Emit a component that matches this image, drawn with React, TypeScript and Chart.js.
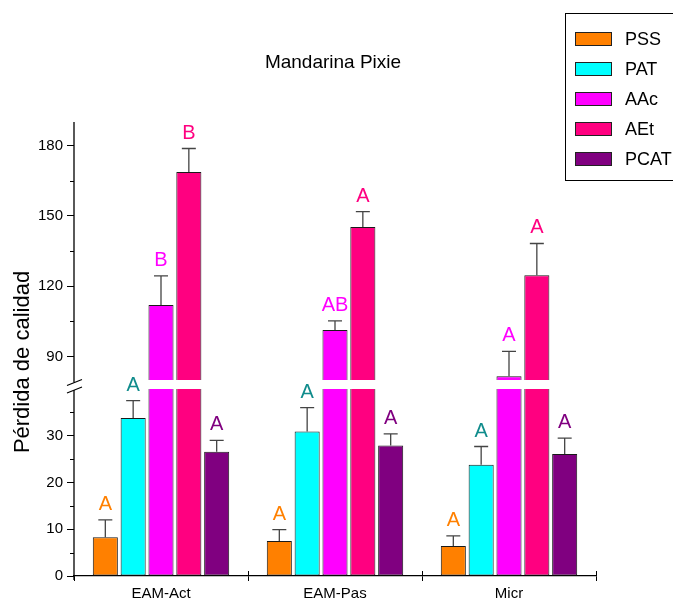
import { useEffect, useRef } from 'react';
import { Chart, registerables, LinearScale } from 'chart.js';

Chart.register(...registerables);

// ---- data ----
const categories = ['EAM-Act', 'EAM-Pas', 'Micr'];
const seriesNames = ['PSS', 'PAT', 'AAc', 'AEt', 'PCAT'];

const pss = [8.3, 7.5, 6.4];
const pat = [33.8, 30.9, 23.8];
const aac = [112.0, 101.3, 81.6];
const aet = [168.7, 145.2, 124.7];
const pcat = [26.6, 27.9, 26.1];

const pssErr = [3.7, 2.4, 2.2];
const patErr = [3.7, 5.1, 3.9];
const aacErr = [12.4, 3.9, 10.6];
const aetErr = [10.0, 6.6, 13.5];
const pcatErr = [2.4, 2.5, 3.4];

const pssLetters = ['A', 'A', 'A'];
const patLetters = ['A', 'A', 'A'];
const aacLetters = ['B', 'AB', 'A'];
const aetLetters = ['B', 'A', 'A'];
const pcatLetters = ['A', 'A', 'A'];

const seriesValues = [pss, pat, aac, aet, pcat];
const seriesErrors = [pssErr, patErr, aacErr, aetErr, pcatErr];
const seriesLetters = [pssLetters, patLetters, aacLetters, aetLetters, pcatLetters];

// y axis: two segments with a break between them
const yLowerRange = [0, 40];
const yUpperRange = [80, 190];
const yMajorTicks = [0, 10, 20, 30, 90, 120, 150, 180];
const yMinorTicks = [5, 15, 25, 35, 105, 135, 165];

// ---- styles ----
const fillColors = ['#FF8000', '#00FFFF', '#FF00FF', '#FF0080', '#800080'];
const letterColors = ['#FF8000', '#108C8C', '#FF00FF', '#FF0080', '#800080'];
const FONT = '"Liberation Sans", Arial, Helvetica, sans-serif';

// share of the plot height taken by the lower segment and by the gap
const LOWER_SHARE = 187 / 454;
const GAP_SHARE = 9 / 454;

class BrokenLinearScale extends LinearScale {
  static id = 'brokenLinear';
  static defaults = LinearScale.defaults;

  buildTicks() {
    return yMajorTicks.map((value) => ({ value }));
  }

  segmentHeights() {
    const h = this.bottom - this.top;
    const low = h * LOWER_SHARE;
    const gap = h * GAP_SHARE;
    return { low, gap, up: h - low - gap };
  }

  getPixelForValue(value: number) {
    if (value === null || value === undefined || isNaN(value)) return NaN;
    const { low, gap, up } = this.segmentHeights();
    const [l0, l1] = yLowerRange;
    const [u0, u1] = yUpperRange;
    if (value <= l1) return this.bottom - ((value - l0) / (l1 - l0)) * low;
    if (value >= u0) return this.bottom - low - gap - ((value - u0) / (u1 - u0)) * up;
    return this.bottom - low - ((value - l1) / (u0 - l1)) * gap;
  }

  getValueForPixel(pixel: number) {
    const { low, gap, up } = this.segmentHeights();
    const [l0, l1] = yLowerRange;
    const [u0, u1] = yUpperRange;
    const d = this.bottom - pixel;
    if (d <= low) return l0 + (d / low) * (l1 - l0);
    if (d >= low + gap) return u0 + ((d - low - gap) / up) * (u1 - u0);
    return l1 + ((d - low) / gap) * (u0 - l1);
  }
}
Chart.register(BrokenLinearScale);

const decorations = {
  id: 'decorations',
  afterDatasetsDraw(chart: any) {
    const { ctx, chartArea } = chart;
    const y = chart.scales.y;
    const gapTop = y.getPixelForValue(yUpperRange[0]);
    const gapBottom = y.getPixelForValue(yLowerRange[1]);

    ctx.save();
    // white band through the bars at the axis break
    ctx.fillStyle = '#FFFFFF';
    ctx.fillRect(chartArea.left + 1, gapTop, chartArea.right - chartArea.left - 1, gapBottom - gapTop);

    // error bars (upper half) and significance letters
    seriesValues.forEach((vals, i) => {
      const meta = chart.getDatasetMeta(i);
      meta.data.forEach((el: any, j: number) => {
        const x = el.x;
        const yTop = y.getPixelForValue(vals[j] + seriesErrors[i][j]);
        ctx.strokeStyle = '#444444';
        ctx.lineWidth = 1.3;
        ctx.beginPath();
        ctx.moveTo(x, el.y);
        ctx.lineTo(x, yTop);
        ctx.moveTo(x - 7, yTop);
        ctx.lineTo(x + 7, yTop);
        ctx.stroke();

        ctx.fillStyle = letterColors[i];
        ctx.font = `20px ${FONT}`;
        ctx.textAlign = 'center';
        ctx.textBaseline = 'alphabetic';
        ctx.fillText(seriesLetters[i][j], x, yTop - 10);
      });
    });
    ctx.restore();
  },
  afterDraw(chart: any) {
    const { ctx, chartArea } = chart;
    const y = chart.scales.y;
    const x = chart.scales.x;
    const axisX = chartArea.left;
    const gapTop = y.getPixelForValue(yUpperRange[0]);
    const gapBottom = y.getPixelForValue(yLowerRange[1]);
    const upperMark = gapTop + 2.5;
    const lowerMark = gapBottom + 1;

    ctx.save();
    ctx.strokeStyle = '#000000';
    ctx.lineWidth = 1.3;

    // broken y axis line
    ctx.beginPath();
    ctx.moveTo(axisX, chartArea.bottom + 4);
    ctx.lineTo(axisX, lowerMark);
    ctx.moveTo(axisX, upperMark);
    ctx.lineTo(axisX, chartArea.top);
    ctx.stroke();

    // break marks
    ctx.lineWidth = 1.2;
    ctx.beginPath();
    [upperMark, lowerMark].forEach((m) => {
      ctx.moveTo(axisX - 7, m + 3);
      ctx.lineTo(axisX + 8, m - 3);
    });
    ctx.stroke();

    // minor ticks on y
    ctx.lineWidth = 1;
    ctx.beginPath();
    yMinorTicks.forEach((v) => {
      const p = Math.round(y.getPixelForValue(v)) + 0.5;
      ctx.moveTo(axisX - 4, p);
      ctx.lineTo(axisX, p);
    });
    ctx.stroke();

    // x ticks at category boundaries, extending into the plot
    ctx.beginPath();
    for (let i = 1; i <= categories.length; i++) {
      const left = x.getPixelForValue(i - 1);
      const right = i < categories.length ? x.getPixelForValue(i) : 2 * left - x.getPixelForValue(i - 2);
      const b = Math.round((left + right) / 2) + 0.5;
      ctx.moveTo(b, chartArea.bottom - 5);
      ctx.lineTo(b, chartArea.bottom);
    }
    ctx.stroke();

    // title
    ctx.fillStyle = '#000000';
    ctx.font = `19px ${FONT}`;
    ctx.textAlign = 'center';
    ctx.textBaseline = 'middle';
    ctx.fillText('Mandarina Pixie', (chartArea.left + chartArea.right) / 2 - 2, 63);

    // y axis title
    ctx.save();
    ctx.translate(23, 362);
    ctx.rotate(-Math.PI / 2);
    ctx.font = `22px ${FONT}`;
    ctx.fillText('Pérdida de calidad', 0, 0);
    ctx.restore();

    // legend
    ctx.lineWidth = 1;
    ctx.strokeStyle = '#000000';
    ctx.strokeRect(565.5, 13.5, 130, 167);
    seriesNames.forEach((name, i) => {
      const cy = 39 + i * 30;
      ctx.fillStyle = fillColors[i];
      ctx.fillRect(575.5, cy - 6.5, 36, 13);
      ctx.strokeStyle = '#222222';
      ctx.strokeRect(575.5, cy - 6.5, 36, 13);
      ctx.fillStyle = '#000000';
      ctx.font = `18px ${FONT}`;
      ctx.textAlign = 'left';
      ctx.textBaseline = 'middle';
      ctx.fillText(name, 625, cy + 1);
    });
    ctx.restore();
  },
};

export default function App() {
  const canvasRef = useRef<HTMLCanvasElement | null>(null);

  useEffect(() => {
    if (!canvasRef.current) return;
    const chart = new Chart(canvasRef.current, {
      type: 'bar',
      data: {
        labels: categories,
        datasets: seriesNames.map((name, i) => ({
          label: name,
          data: seriesValues[i],
          backgroundColor: fillColors[i],
          borderColor: '#1A1A1A',
          borderWidth: 1,
          borderSkipped: false,
          categoryPercentage: 0.8,
          barPercentage: 0.9,
        })),
      },
      options: {
        animation: false,
        responsive: false,
        devicePixelRatio: 1,
        layout: { padding: { top: 122, right: 77, left: 0, bottom: 0 } },
        plugins: {
          legend: { display: false },
          title: { display: false },
          tooltip: { enabled: false },
        },
        scales: {
          x: {
            type: 'category',
            offset: true,
            afterFit: (s: any) => {
              s.height = 25;
            },
            border: { display: true, color: '#000000', width: 1.3 },
            grid: {
              display: true,
              offset: true,
              drawOnChartArea: false,
              drawTicks: true,
              tickLength: 5,
              color: '#000000',
              lineWidth: 1,
            },
            ticks: {
              color: '#000000',
              font: { family: FONT, size: 15 },
              padding: 4,
              maxRotation: 0,
            },
          },
          y: {
            type: 'brokenLinear' as any,
            min: 0,
            max: 190,
            afterFit: (s: any) => {
              s.width = 74;
            },
            border: { display: false },
            grid: {
              display: true,
              drawOnChartArea: false,
              drawTicks: true,
              tickLength: 7,
              color: '#000000',
              lineWidth: 1,
            },
            ticks: {
              autoSkip: false,
              color: '#000000',
              font: { family: FONT, size: 15 },
              padding: 4,
            },
          },
        },
      },
      plugins: [decorations],
    });
    return () => chart.destroy();
  }, []);

  return (
    <div style={{ position: 'fixed', left: 0, top: 0, width: 673, height: 601, background: '#FFFFFF' }}>
      <canvas ref={canvasRef} width={673} height={601} style={{ display: 'block' }} />
    </div>
  );
}
